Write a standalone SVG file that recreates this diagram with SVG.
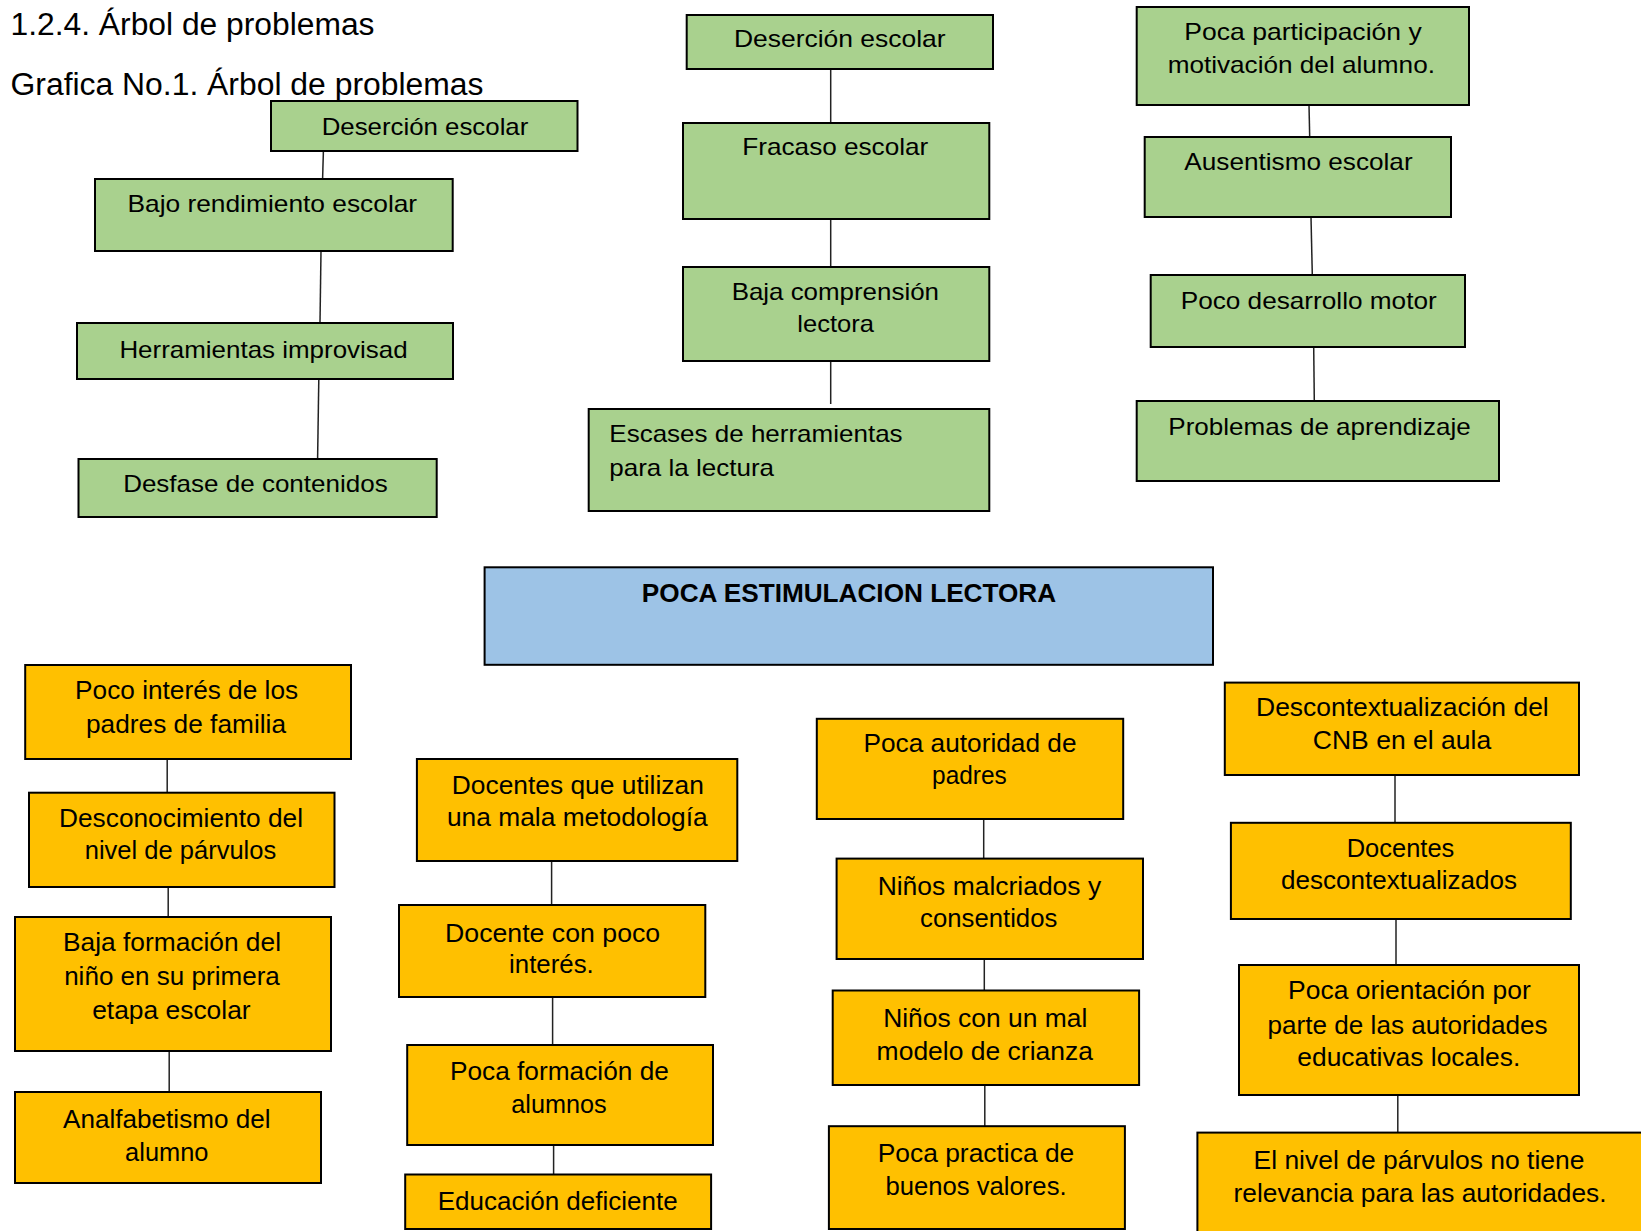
<svg xmlns="http://www.w3.org/2000/svg" width="1641" height="1231" viewBox="0 0 1641 1231">
<style>
.g{fill:#A9D18E;stroke:#000;stroke-width:2}
.o{fill:#FFC000;stroke:#000;stroke-width:2}
.b{fill:#9DC3E6;stroke:#000;stroke-width:2}
text{font-family:"Liberation Sans",Arial,sans-serif;fill:#000}
.tg{font-size:24px;text-anchor:middle}
.tl{font-size:24px}
.to{font-size:26px;text-anchor:middle}
.th{font-size:31px}
.tb{font-size:26px;font-weight:bold;text-anchor:middle}
.c{stroke:#222;stroke-width:1.5;fill:none}
</style>
<rect width="1641" height="1231" fill="#fff"/>
<g id="titles">
<text class="th" x="10.5" y="34.5" textLength="364" lengthAdjust="spacingAndGlyphs">1.2.4. Árbol de problemas</text>
<text class="th" x="10.5" y="95" textLength="473" lengthAdjust="spacingAndGlyphs">Grafica No.1. Árbol de problemas</text>
</g>
<g id="connectors">
<line class="c" x1="323.4" y1="151" x2="322.6" y2="179"/>
<line class="c" x1="321" y1="251" x2="320" y2="323"/>
<line class="c" x1="318.8" y1="379" x2="317.6" y2="459"/>
<line class="c" x1="830.7" y1="69" x2="830.7" y2="123"/>
<line class="c" x1="830.7" y1="219" x2="830.7" y2="267"/>
<line class="c" x1="830.7" y1="361" x2="830.7" y2="404"/>
<line class="c" x1="1309" y1="105" x2="1309.7" y2="137"/>
<line class="c" x1="1311" y1="217" x2="1312.3" y2="275"/>
<line class="c" x1="1313.7" y1="347" x2="1314.3" y2="401"/>
<line class="c" x1="167.2" y1="759" x2="167.2" y2="793"/>
<line class="c" x1="168.2" y1="887" x2="168.2" y2="917"/>
<line class="c" x1="169.2" y1="1051" x2="169.2" y2="1092"/>
<line class="c" x1="551.6" y1="861" x2="551.6" y2="905"/>
<line class="c" x1="552.6" y1="997" x2="552.6" y2="1045"/>
<line class="c" x1="553.6" y1="1145" x2="553.6" y2="1174.5"/>
<line class="c" x1="983.7" y1="819" x2="983.7" y2="858.6"/>
<line class="c" x1="984.3" y1="959" x2="984.3" y2="990.5"/>
<line class="c" x1="984.8" y1="1085" x2="984.8" y2="1126.2"/>
<line class="c" x1="1395" y1="775" x2="1395" y2="823"/>
<line class="c" x1="1396" y1="919" x2="1396" y2="965"/>
<line class="c" x1="1397.8" y1="1095" x2="1397.8" y2="1132.6"/>
</g>
<g id="g1"><rect class="g" x="271" y="101" width="306.5" height="50"/><text class="tg" x="425" y="134.5" textLength="206.7" lengthAdjust="spacingAndGlyphs">Deserción escolar</text></g>
<g id="g2"><rect class="g" x="95" y="179" width="357.7" height="72"/><text class="tg" x="272.3" y="212.3" textLength="289.7" lengthAdjust="spacingAndGlyphs">Bajo rendimiento escolar</text></g>
<g id="g3"><rect class="g" x="77" y="323" width="376" height="56"/><text class="tg" x="263.5" y="358.3" textLength="288.2" lengthAdjust="spacingAndGlyphs">Herramientas improvisad</text></g>
<g id="g4"><rect class="g" x="78.5" y="459" width="358.2" height="58"/><text class="tg" x="255.4" y="491.7" textLength="264.5" lengthAdjust="spacingAndGlyphs">Desfase de contenidos</text></g>
<g id="g5"><rect class="g" x="686.7" y="15" width="306.3" height="54"/><text class="tg" x="839.8" y="47.3" textLength="211.7" lengthAdjust="spacingAndGlyphs">Deserción escolar</text></g>
<g id="g6"><rect class="g" x="683" y="123" width="306.3" height="96"/><text class="tg" x="835.3" y="155" textLength="186" lengthAdjust="spacingAndGlyphs">Fracaso escolar</text></g>
<g id="g7"><rect class="g" x="683" y="267" width="306.3" height="94"/><text class="tg" x="835.3" y="300" textLength="207.3" lengthAdjust="spacingAndGlyphs">Baja comprensión</text><text class="tg" x="835.7" y="331.7" textLength="76.7" lengthAdjust="spacingAndGlyphs">lectora</text></g>
<g id="g8"><rect class="g" x="588.7" y="409" width="400.6" height="102"/><text class="tl" x="609.3" y="441.7" textLength="293.3" lengthAdjust="spacingAndGlyphs">Escases de herramientas</text><text class="tl" x="609.3" y="476" textLength="164.7" lengthAdjust="spacingAndGlyphs">para la lectura</text></g>
<g id="g9"><rect class="g" x="1136.7" y="7" width="332.3" height="98"/><text class="tg" x="1303" y="40" textLength="237.3" lengthAdjust="spacingAndGlyphs">Poca participación y</text><text class="tg" x="1301.3" y="73.3" textLength="267.3" lengthAdjust="spacingAndGlyphs">motivación del alumno.</text></g>
<g id="g10"><rect class="g" x="1144.7" y="137" width="306.3" height="80"/><text class="tg" x="1298.5" y="170" textLength="228.3" lengthAdjust="spacingAndGlyphs">Ausentismo escolar</text></g>
<g id="g11"><rect class="g" x="1150.7" y="275" width="314.3" height="72"/><text class="tg" x="1308.7" y="309" textLength="256" lengthAdjust="spacingAndGlyphs">Poco desarrollo motor</text></g>
<g id="g12"><rect class="g" x="1136.7" y="401" width="362.3" height="80"/><text class="tg" x="1319.5" y="435" textLength="302.3" lengthAdjust="spacingAndGlyphs">Problemas de aprendizaje</text></g>
<g id="center"><rect class="b" x="484.6" y="567.3" width="728.4" height="97.5"/><text class="tb" x="849" y="601.7" textLength="414.3" lengthAdjust="spacingAndGlyphs">POCA ESTIMULACION LECTORA</text></g>
<g id="o1"><rect class="o" x="25.2" y="665" width="325.8" height="94"/><text class="to" x="186.6" y="699.3" textLength="223" lengthAdjust="spacingAndGlyphs">Poco interés de los</text><text class="to" x="186" y="732.5" textLength="200" lengthAdjust="spacingAndGlyphs">padres de familia</text></g>
<g id="o2"><rect class="o" x="29" y="792.7" width="305.5" height="94.3"/><text class="to" x="181" y="827.3" textLength="244" lengthAdjust="spacingAndGlyphs">Desconocimiento del</text><text class="to" x="180.5" y="858.6" textLength="191.5" lengthAdjust="spacingAndGlyphs">nivel de párvulos</text></g>
<g id="o3"><rect class="o" x="15" y="917" width="316" height="134"/><text class="to" x="172" y="951" textLength="218" lengthAdjust="spacingAndGlyphs">Baja formación del</text><text class="to" x="172" y="985" textLength="215.7" lengthAdjust="spacingAndGlyphs">niño en su primera</text><text class="to" x="171.4" y="1018.8" textLength="158.5" lengthAdjust="spacingAndGlyphs">etapa escolar</text></g>
<g id="o4"><rect class="o" x="15" y="1092" width="306" height="91"/><text class="to" x="166.8" y="1128" textLength="207.5" lengthAdjust="spacingAndGlyphs">Analfabetismo del</text><text class="to" x="166.8" y="1161.3" textLength="83.4" lengthAdjust="spacingAndGlyphs">alumno</text></g>
<g id="o5"><rect class="o" x="416.9" y="759" width="320.4" height="102"/><text class="to" x="577.8" y="793.5" textLength="252" lengthAdjust="spacingAndGlyphs">Docentes que utilizan</text><text class="to" x="577.3" y="825.5" textLength="260.8" lengthAdjust="spacingAndGlyphs">una mala metodología</text></g>
<g id="o6"><rect class="o" x="399" y="905" width="306.3" height="92"/><text class="to" x="552.6" y="941.5" textLength="215.2" lengthAdjust="spacingAndGlyphs">Docente con poco</text><text class="to" x="551.4" y="972.5" textLength="84.8" lengthAdjust="spacingAndGlyphs">interés.</text></g>
<g id="o7"><rect class="o" x="407.2" y="1045" width="305.8" height="100"/><text class="to" x="559.4" y="1080" textLength="219" lengthAdjust="spacingAndGlyphs">Poca formación de</text><text class="to" x="559" y="1113" textLength="95.5" lengthAdjust="spacingAndGlyphs">alumnos</text></g>
<g id="o8"><rect class="o" x="405.2" y="1174.5" width="305.9" height="54.5"/><text class="to" x="557.7" y="1209.5" textLength="240" lengthAdjust="spacingAndGlyphs">Educación deficiente</text></g>
<g id="o9"><rect class="o" x="816.8" y="718.8" width="306.4" height="100.2"/><text class="to" x="970" y="752" textLength="213" lengthAdjust="spacingAndGlyphs">Poca autoridad de</text><text class="to" x="969.4" y="784" textLength="74.7" lengthAdjust="spacingAndGlyphs">padres</text></g>
<g id="o10"><rect class="o" x="836.6" y="858.6" width="306.4" height="100.4"/><text class="to" x="989.4" y="895" textLength="223.5" lengthAdjust="spacingAndGlyphs">Niños malcriados y</text><text class="to" x="988.7" y="926.5" textLength="137.3" lengthAdjust="spacingAndGlyphs">consentidos</text></g>
<g id="o11"><rect class="o" x="832.7" y="990.5" width="306.4" height="94.5"/><text class="to" x="985.3" y="1026.8" textLength="204.3" lengthAdjust="spacingAndGlyphs">Niños con un mal</text><text class="to" x="984.8" y="1059.5" textLength="216.4" lengthAdjust="spacingAndGlyphs">modelo de crianza</text></g>
<g id="o12"><rect class="o" x="828.9" y="1126.2" width="296" height="102.8"/><text class="to" x="976" y="1162" textLength="196.6" lengthAdjust="spacingAndGlyphs">Poca practica de</text><text class="to" x="976" y="1194.5" textLength="181.2" lengthAdjust="spacingAndGlyphs">buenos valores.</text></g>
<g id="o13"><rect class="o" x="1224.8" y="682.6" width="354.2" height="92.4"/><text class="to" x="1402.4" y="716" textLength="292.7" lengthAdjust="spacingAndGlyphs">Descontextualización del</text><text class="to" x="1402" y="748.5" textLength="178.5" lengthAdjust="spacingAndGlyphs">CNB en el aula</text></g>
<g id="o14"><rect class="o" x="1230.9" y="822.8" width="339.9" height="96.2"/><text class="to" x="1400.5" y="856.5" textLength="107.6" lengthAdjust="spacingAndGlyphs">Docentes</text><text class="to" x="1399" y="889" textLength="236.1" lengthAdjust="spacingAndGlyphs">descontextualizados</text></g>
<g id="o15"><rect class="o" x="1239" y="965" width="340" height="130"/><text class="to" x="1409.4" y="999" textLength="242.7" lengthAdjust="spacingAndGlyphs">Poca orientación por</text><text class="to" x="1407.6" y="1034" textLength="280" lengthAdjust="spacingAndGlyphs">parte de las autoridades</text><text class="to" x="1408.8" y="1066" textLength="223" lengthAdjust="spacingAndGlyphs">educativas locales.</text></g>
<g id="o16"><rect class="o" x="1197.4" y="1132.6" width="460" height="120"/><text class="to" x="1419" y="1168.5" textLength="331" lengthAdjust="spacingAndGlyphs">El nivel de párvulos no tiene</text><text class="to" x="1420" y="1202" textLength="373" lengthAdjust="spacingAndGlyphs">relevancia para las autoridades.</text></g>
</svg>
